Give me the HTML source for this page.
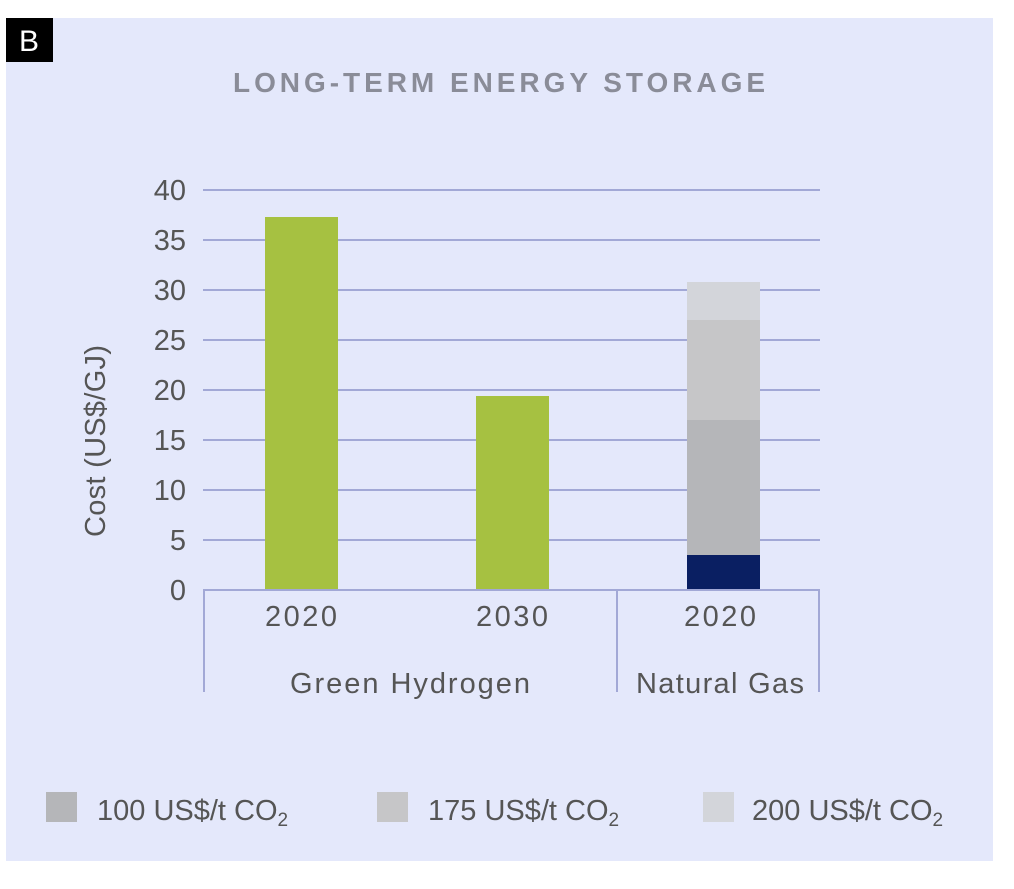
<!DOCTYPE html>
<html><head><meta charset="utf-8"><style>
body{margin:0;background:#fff;width:1014px;height:884px;overflow:hidden;font-family:"Liberation Sans",sans-serif}
</style></head><body>
<svg width="1014" height="884" xmlns="http://www.w3.org/2000/svg" font-family="Liberation Sans, sans-serif">
<rect x="6" y="18" width="987" height="843" fill="#e4e8fb"/>
<rect x="6" y="18" width="47" height="44" fill="#000"/>
<text x="29" y="51" fill="#fff" font-size="30" text-anchor="middle">B</text>
<text x="233" y="92" fill="#8a8c98" font-size="28" font-weight="bold" textLength="532" lengthAdjust="spacing">LONG-TERM ENERGY STORAGE</text>
<g stroke="#a2a8d6" stroke-width="2">
<line x1="203" y1="190" x2="820" y2="190"/><line x1="203" y1="240" x2="820" y2="240"/>
<line x1="203" y1="290" x2="820" y2="290"/><line x1="203" y1="340" x2="820" y2="340"/>
<line x1="203" y1="390" x2="820" y2="390"/><line x1="203" y1="440" x2="820" y2="440"/>
<line x1="203" y1="490" x2="820" y2="490"/><line x1="203" y1="540" x2="820" y2="540"/>
</g>
<rect x="265" y="217" width="73" height="373" fill="#a6c141"/>
<rect x="476" y="396" width="73" height="194" fill="#a6c141"/>
<rect x="687" y="282" width="73" height="38" fill="#d3d5da"/>
<rect x="687" y="320" width="73" height="100" fill="#c6c6c8"/>
<rect x="687" y="420" width="73" height="135" fill="#b5b6b9"/>
<rect x="687" y="555" width="73" height="35" fill="#0a1f62"/>
<g stroke="#a2a8d6" stroke-width="2">
<line x1="203" y1="590" x2="820" y2="590"/>
<line x1="204" y1="590" x2="204" y2="692"/>
<line x1="617" y1="590" x2="617" y2="692"/>
<line x1="819" y1="590" x2="819" y2="692"/>
</g>
<g fill="#555" font-size="29" text-anchor="end">
<text x="186" y="200">40</text><text x="186" y="250">35</text><text x="186" y="300">30</text>
<text x="186" y="350">25</text><text x="186" y="400">20</text><text x="186" y="450">15</text>
<text x="186" y="500">10</text><text x="186" y="550">5</text><text x="186" y="600">0</text>
</g>
<g fill="#555" font-size="29">
<text x="265" y="626" textLength="72">2020</text><text x="476" y="626" textLength="72">2030</text><text x="684" y="626" textLength="72">2020</text>
<text x="290" y="693" textLength="240">Green Hydrogen</text><text x="636" y="693" textLength="168">Natural Gas</text>
<text transform="translate(105,537) rotate(-90)" textLength="192">Cost (US$/GJ)</text>
</g>
<rect x="46" y="792" width="31" height="30" fill="#b5b6b9"/>
<rect x="377" y="792" width="31" height="30" fill="#c6c6c8"/>
<rect x="703" y="792" width="31" height="30" fill="#d3d5da"/>
<g fill="#555" font-size="29">
<text x="97" y="820">100 US$/t CO<tspan font-size="19" dy="6">2</tspan></text>
<text x="428" y="820">175 US$/t CO<tspan font-size="19" dy="6">2</tspan></text>
<text x="752" y="820">200 US$/t CO<tspan font-size="19" dy="6">2</tspan></text>
</g>
</svg>
</body></html>
